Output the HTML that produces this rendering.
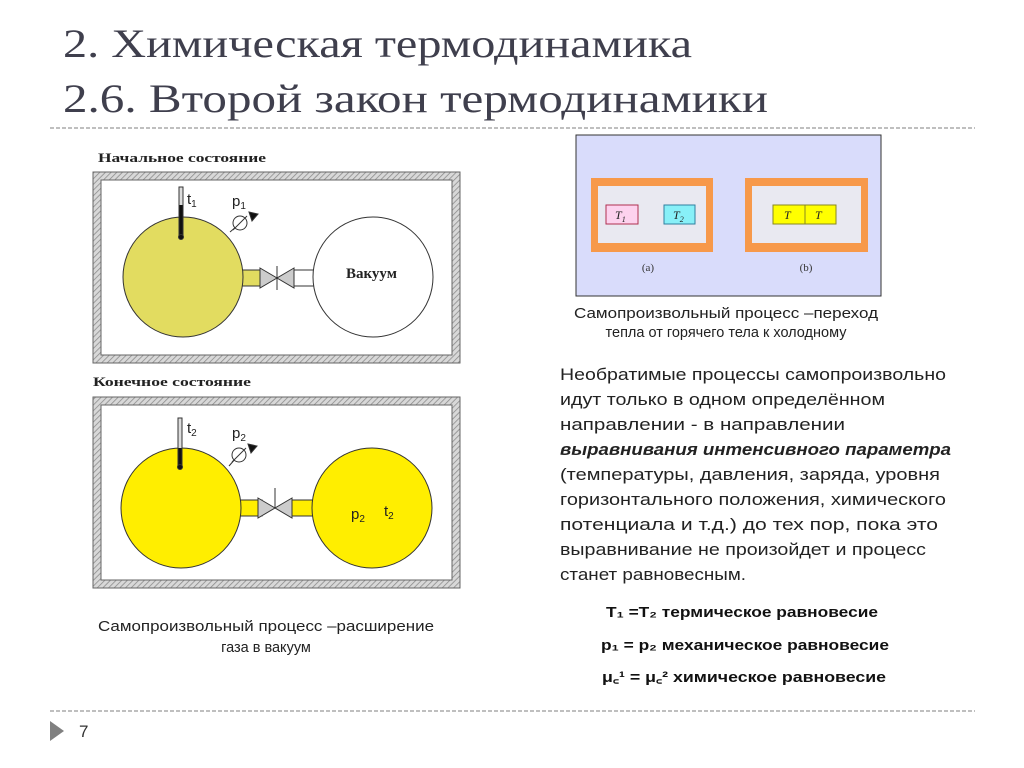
<!DOCTYPE html>
<html><head><meta charset="utf-8"><style>
html,body{margin:0;padding:0;background:#fff;}
svg{display:block;}
</style></head><body>
<svg width="1024" height="768" viewBox="0 0 1024 768" xmlns="http://www.w3.org/2000/svg">
<defs>
<pattern id="hatch" width="4" height="4" patternUnits="userSpaceOnUse" patternTransform="rotate(45)">
<rect width="4" height="4" fill="#d8d8d8"/><line x1="0" y1="0" x2="0" y2="4" stroke="#888" stroke-width="1.5"/>
</pattern>
</defs>
<rect width="1024" height="768" fill="#fff"/>
<!-- Title -->
<g font-family="Liberation Serif, serif" fill="#3f3f4d" font-size="40">
<text x="63" y="57" textLength="629" lengthAdjust="spacingAndGlyphs">2. Химическая термодинамика</text>
<text x="63" y="112" textLength="705" lengthAdjust="spacingAndGlyphs">2.6. Второй закон термодинамики</text>
</g>
<line x1="50" y1="128" x2="975" y2="128" stroke="#aaa" stroke-width="1.5" stroke-dasharray="4,2"/>
<line x1="50" y1="711" x2="975" y2="711" stroke="#aaa" stroke-width="1.5" stroke-dasharray="4,2"/>
<polygon points="50,721 64,731 50,741" fill="#808080"/>
<text x="79" y="737" font-family="Liberation Sans, sans-serif" font-size="17" fill="#333">7</text>

<!-- Left diagrams -->
<g font-family="Liberation Serif, serif" font-weight="bold" fill="#222">
<text x="98" y="162" font-size="13" textLength="168" lengthAdjust="spacingAndGlyphs">Начальное состояние</text>
<text x="93" y="386" font-size="13" textLength="158" lengthAdjust="spacingAndGlyphs">Конечное состояние</text>
</g>
<rect x="93" y="172" width="367" height="191" fill="url(#hatch)" stroke="#666"/>
<rect x="101" y="180" width="351" height="175" fill="#fff" stroke="#666"/>
<rect x="93" y="397" width="367" height="191" fill="url(#hatch)" stroke="#666"/>
<rect x="101" y="405" width="351" height="175" fill="#fff" stroke="#666"/>

<g stroke="#333" stroke-width="1">
<rect x="240" y="270" width="22" height="16" fill="#e2dc60"/>
<rect x="292" y="270" width="22" height="16" fill="#fff"/>
<circle cx="183" cy="277" r="60" fill="#e2dc60"/>
<circle cx="373" cy="277" r="60" fill="#fff"/>
<polygon points="260,268 277,278 260,288" fill="#ccc"/>
<polygon points="294,268 277,278 294,288" fill="#ccc"/>
<line x1="277" y1="266" x2="277" y2="290"/>
<rect x="179" y="187" width="4" height="50" fill="#ddd"/>
<line x1="181" y1="205" x2="181" y2="237" stroke="#111" stroke-width="3"/>
<circle cx="181" cy="237" r="2.5" fill="#111"/>
<line x1="230" y1="232" x2="237" y2="226"/>
<circle cx="240" cy="223" r="7" fill="#fff"/>
<line x1="233" y1="230" x2="247" y2="216"/>
<polygon points="249,212 258,214 252,221" fill="#111"/>
<rect x="240" y="500" width="22" height="16" fill="#ffee00"/>
<rect x="292" y="500" width="22" height="16" fill="#ffee00"/>
<circle cx="181" cy="508" r="60" fill="#ffee00"/>
<circle cx="372" cy="508" r="60" fill="#ffee00"/>
<polygon points="258,498 275,508 258,518" fill="#ccc"/>
<polygon points="292,498 275,508 292,518" fill="#ccc"/>
<line x1="275" y1="488" x2="275" y2="508"/>
<rect x="178" y="418" width="4" height="50" fill="#ddd"/>
<line x1="180" y1="448" x2="180" y2="467" stroke="#111" stroke-width="3"/>
<circle cx="180" cy="467" r="2.5" fill="#111"/>
<line x1="229" y1="466" x2="236" y2="458"/>
<circle cx="239" cy="455" r="7" fill="#fff"/>
<line x1="232" y1="462" x2="246" y2="448"/>
<polygon points="248,444 257,446 251,453" fill="#111"/>
</g>
<g font-family="Liberation Sans, sans-serif" fill="#222" font-size="15">
<text x="187" y="204">t<tspan font-size="10" dy="3">1</tspan></text>
<text x="232" y="206">p<tspan font-size="10" dy="3">1</tspan></text>
<text x="187" y="433">t<tspan font-size="10" dy="3">2</tspan></text>
<text x="232" y="438">p<tspan font-size="10" dy="3">2</tspan></text>
<text x="351" y="519">p<tspan font-size="10" dy="3">2</tspan></text>
<text x="384" y="516">t<tspan font-size="10" dy="3">2</tspan></text>
</g>
<text x="346" y="278" font-family="Liberation Serif, serif" font-weight="bold" font-size="15" fill="#222">Вакуум</text>

<g font-family="Liberation Sans, sans-serif" font-size="14.5" fill="#222" text-anchor="middle">
<text x="266" y="631" textLength="336" lengthAdjust="spacingAndGlyphs">Самопроизвольный процесс –расширение</text>
<text x="266" y="652">газа в вакуум</text>
<text x="726" y="318" textLength="304" lengthAdjust="spacingAndGlyphs">Самопроизвольный процесс –переход</text>
<text x="726" y="337">тепла от горячего тела к холодному</text>
</g>

<rect x="576" y="135" width="305" height="161" fill="#d9dcfb" stroke="#333"/>
<rect x="591" y="178" width="122" height="74" fill="#f7994a"/>
<rect x="598" y="186" width="108" height="57" fill="#e9e9f1"/>
<rect x="745" y="178" width="123" height="74" fill="#f7994a"/>
<rect x="752" y="186" width="109" height="57" fill="#e9e9f1"/>
<rect x="606" y="205" width="32" height="19" fill="#fdd2ee" stroke="#b03050"/>
<rect x="664" y="205" width="31" height="19" fill="#88f0f8" stroke="#3080a0"/>
<rect x="773" y="205" width="63" height="19" fill="#ffff00" stroke="#888820"/>
<line x1="805" y1="205" x2="805" y2="224" stroke="#888820"/>
<g font-family="Liberation Serif, serif" font-style="italic" font-size="12" fill="#222">
<text x="615" y="219">T<tspan font-size="8" dy="3">1</tspan></text>
<text x="673" y="219">T<tspan font-size="8" dy="3">2</tspan></text>
<text x="784" y="219">T</text>
<text x="815" y="219">T</text>
</g>
<g font-family="Liberation Serif, serif" font-size="11" fill="#333" text-anchor="middle">
<text x="648" y="271">(a)</text>
<text x="806" y="271">(b)</text>
</g>

<g font-family="Liberation Sans, sans-serif" font-size="17" fill="#222">
<text x="560" y="380" textLength="386" lengthAdjust="spacingAndGlyphs">Необратимые процессы самопроизвольно</text>
<text x="560" y="405" textLength="325" lengthAdjust="spacingAndGlyphs">идут только в одном определённом</text>
<text x="560" y="430" textLength="285" lengthAdjust="spacingAndGlyphs">направлении - в направлении</text>
<text x="560" y="455" textLength="391" lengthAdjust="spacingAndGlyphs" font-weight="bold" font-style="italic">выравнивания интенсивного параметра</text>
<text x="560" y="480" textLength="380" lengthAdjust="spacingAndGlyphs">(температуры, давления, заряда, уровня</text>
<text x="560" y="505" textLength="386" lengthAdjust="spacingAndGlyphs">горизонтального положения, химического</text>
<text x="560" y="530" textLength="378" lengthAdjust="spacingAndGlyphs">потенциала и т.д.) до тех пор, пока это</text>
<text x="560" y="555" textLength="366" lengthAdjust="spacingAndGlyphs">выравнивание не произойдет и процесс</text>
<text x="560" y="580" textLength="186" lengthAdjust="spacingAndGlyphs">станет равновесным.</text>
</g>
<g font-family="Liberation Sans, sans-serif" font-size="15" font-weight="bold" fill="#111">
<text x="606" y="617" textLength="272" lengthAdjust="spacingAndGlyphs">T₁ =T₂  термическое равновесие</text>
<text x="601" y="650" textLength="288" lengthAdjust="spacingAndGlyphs">p₁ = p₂  механическое равновесие</text>
<text x="602" y="682" textLength="284" lengthAdjust="spacingAndGlyphs">μ꜀¹ = μ꜀²  химическое равновесие</text>
</g>
</svg>
</body></html>
